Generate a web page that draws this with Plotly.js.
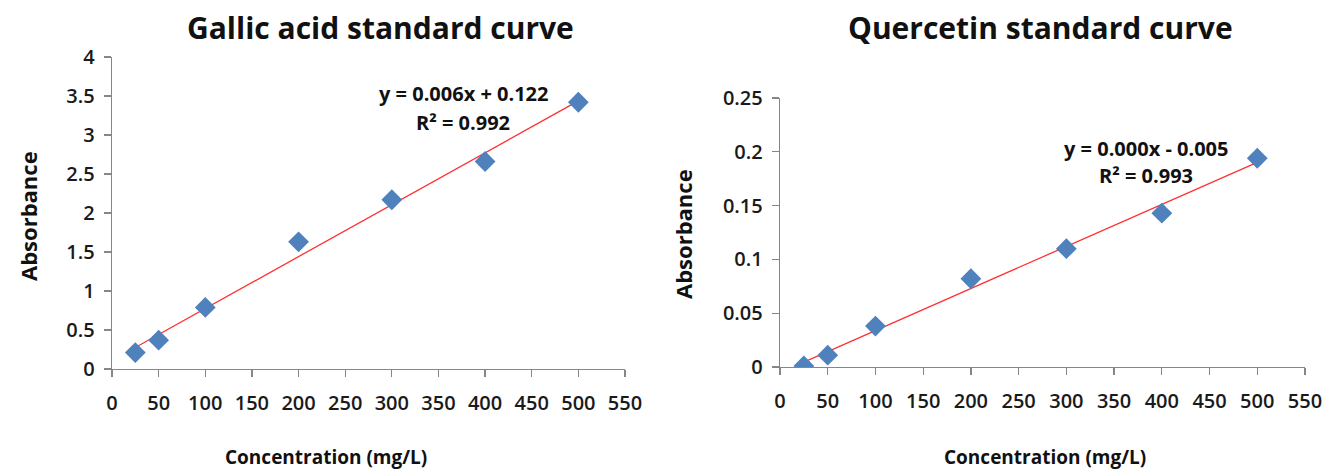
<!DOCTYPE html>
<html>
<head>
<meta charset="utf-8">
<script src="https://cdn.plot.ly/plotly-3.0.1.min.js"></script>
<style>html,body{margin:0;padding:0;background:#fff;}#chart{width:1329px;height:470px;}</style>
</head>
<body>
<div id="chart"></div>
<script>
// Data
const concentration = [25, 50, 100, 200, 300, 400, 500];
const gallicAbs = [0.21, 0.37, 0.79, 1.63, 2.17, 2.66, 3.42];
const quercetinAbs = [0.001, 0.011, 0.038, 0.082, 0.110, 0.143, 0.194];
const xTicks = [0, 50, 100, 150, 200, 250, 300, 350, 400, 450, 500, 550];
const gallicYTicks = [0, 0.5, 1, 1.5, 2, 2.5, 3, 3.5, 4];
const quercetinYTicks = [0, 0.05, 0.1, 0.15, 0.2, 0.25];
const titles = ["Gallic acid standard curve", "Quercetin standard curve"];
const gallicEq = ["y = 0.006x + 0.122", "R² = 0.992"];
const quercetinEq = ["y = 0.000x - 0.005", "R² = 0.993"];

function linfit(x, y) {
  const n = x.length;
  const mx = x.reduce((a, b) => a + b, 0) / n;
  const my = y.reduce((a, b) => a + b, 0) / n;
  let sxy = 0, sxx = 0;
  for (let i = 0; i < n; i++) { sxy += (x[i] - mx) * (y[i] - my); sxx += (x[i] - mx) ** 2; }
  const m = sxy / sxx;
  const b = my - m * mx;
  const x0 = Math.min(...x), x1 = Math.max(...x);
  return { x: [x0, x1], y: [m * x0 + b, m * x1 + b] };
}

const FONT = "'Open Sans', sans-serif";
const BLUE = "#4F81BD";
const RED = "#FF3030";

const fitG = linfit(concentration, gallicAbs);
const fitQ = linfit(concentration, quercetinAbs);

const traces = [
  { x: fitG.x, y: fitG.y, mode: "lines", line: { color: RED, width: 1.3 }, xaxis: "x", yaxis: "y", hoverinfo: "skip" },
  { x: concentration, y: gallicAbs, mode: "markers", marker: { symbol: "diamond", size: 16, color: BLUE }, xaxis: "x", yaxis: "y" },
  { x: fitQ.x, y: fitQ.y, mode: "lines", line: { color: RED, width: 1.3 }, xaxis: "x2", yaxis: "y2", hoverinfo: "skip" },
  { x: concentration, y: quercetinAbs, mode: "markers", marker: { symbol: "diamond", size: 16, color: BLUE }, xaxis: "x2", yaxis: "y2" }
];

const tickFont = { family: FONT, size: 20, color: "#1a1a1a", weight: 600 };
function xax(domain, anchor) {
  return {
    domain: domain, anchor: anchor, range: [0, 550], tickvals: xTicks, ticktext: xTicks.map(String),
    showgrid: false, zeroline: false, showline: true, linecolor: "#868686", linewidth: 1.3,
    ticks: "outside", ticklen: 7, tickcolor: "#868686", tickwidth: 1.3, tickfont: tickFont, ticklabelstandoff: 9, fixedrange: true
  };
}
function yax(domain, anchor, range, vals) {
  return {
    domain: domain, anchor: anchor, range: range, tickvals: vals, ticktext: vals.map(String),
    showgrid: false, zeroline: false, showline: true, linecolor: "#868686", linewidth: 1.3,
    ticks: "outside", ticklen: 7, tickcolor: "#868686", tickwidth: 1.3, tickfont: tickFont, ticklabelstandoff: 5, fixedrange: true
  };
}

const W = 1329, H = 470;
const px = v => v / W, py = v => 1 - v / H;

const titleFont = { family: FONT, size: 30, color: "#111", weight: 700 };
const axTitleFont = { family: FONT, size: 19, color: "#111", weight: 700 };
const yTitleFont = { family: FONT, size: 22, color: "#111", weight: 700 };
const eqFont = { family: FONT, size: 20, color: "#111", weight: 700 };

function ann(text, x, y, font, extra) {
  return Object.assign({ text: text, x: px(x), y: py(y), xref: "paper", yref: "paper", showarrow: false, font: font, xanchor: "center", yanchor: "middle" }, extra || {});
}

const annotations = [
  ann(titles[0], 380, 28, titleFont),
  ann(titles[1], 1040, 28, titleFont),
  ann("Absorbance", 28, 216, yTitleFont, { textangle: -90 }),
  ann("Absorbance", 683, 234, yTitleFont, { textangle: -90 }),
  ann("Concentration (mg/L)", 326, 457, axTitleFont),
  ann("Concentration (mg/L)", 1045, 457, axTitleFont),
  ann(gallicEq[0], 463, 93, eqFont),
  ann(gallicEq[1], 463, 122, eqFont),
  ann(quercetinEq[0], 1146, 148, eqFont),
  ann(quercetinEq[1], 1146, 175, eqFont)
];

const layout = {
  width: W, height: H, margin: { l: 0, r: 0, t: 0, b: 0 },
  paper_bgcolor: "#fff", plot_bgcolor: "#fff", showlegend: false,
  xaxis: xax([px(112), px(625)], "y"),
  yaxis: yax([py(369), py(57)], "x", [0, 4], gallicYTicks),
  xaxis2: xax([px(780), px(1305)], "y2"),
  yaxis2: yax([py(367), py(98)], "x2", [0, 0.25], quercetinYTicks),
  annotations: annotations
};

Plotly.newPlot("chart", traces, layout, { staticPlot: true, displayModeBar: false });
</script>
</body>
</html>
